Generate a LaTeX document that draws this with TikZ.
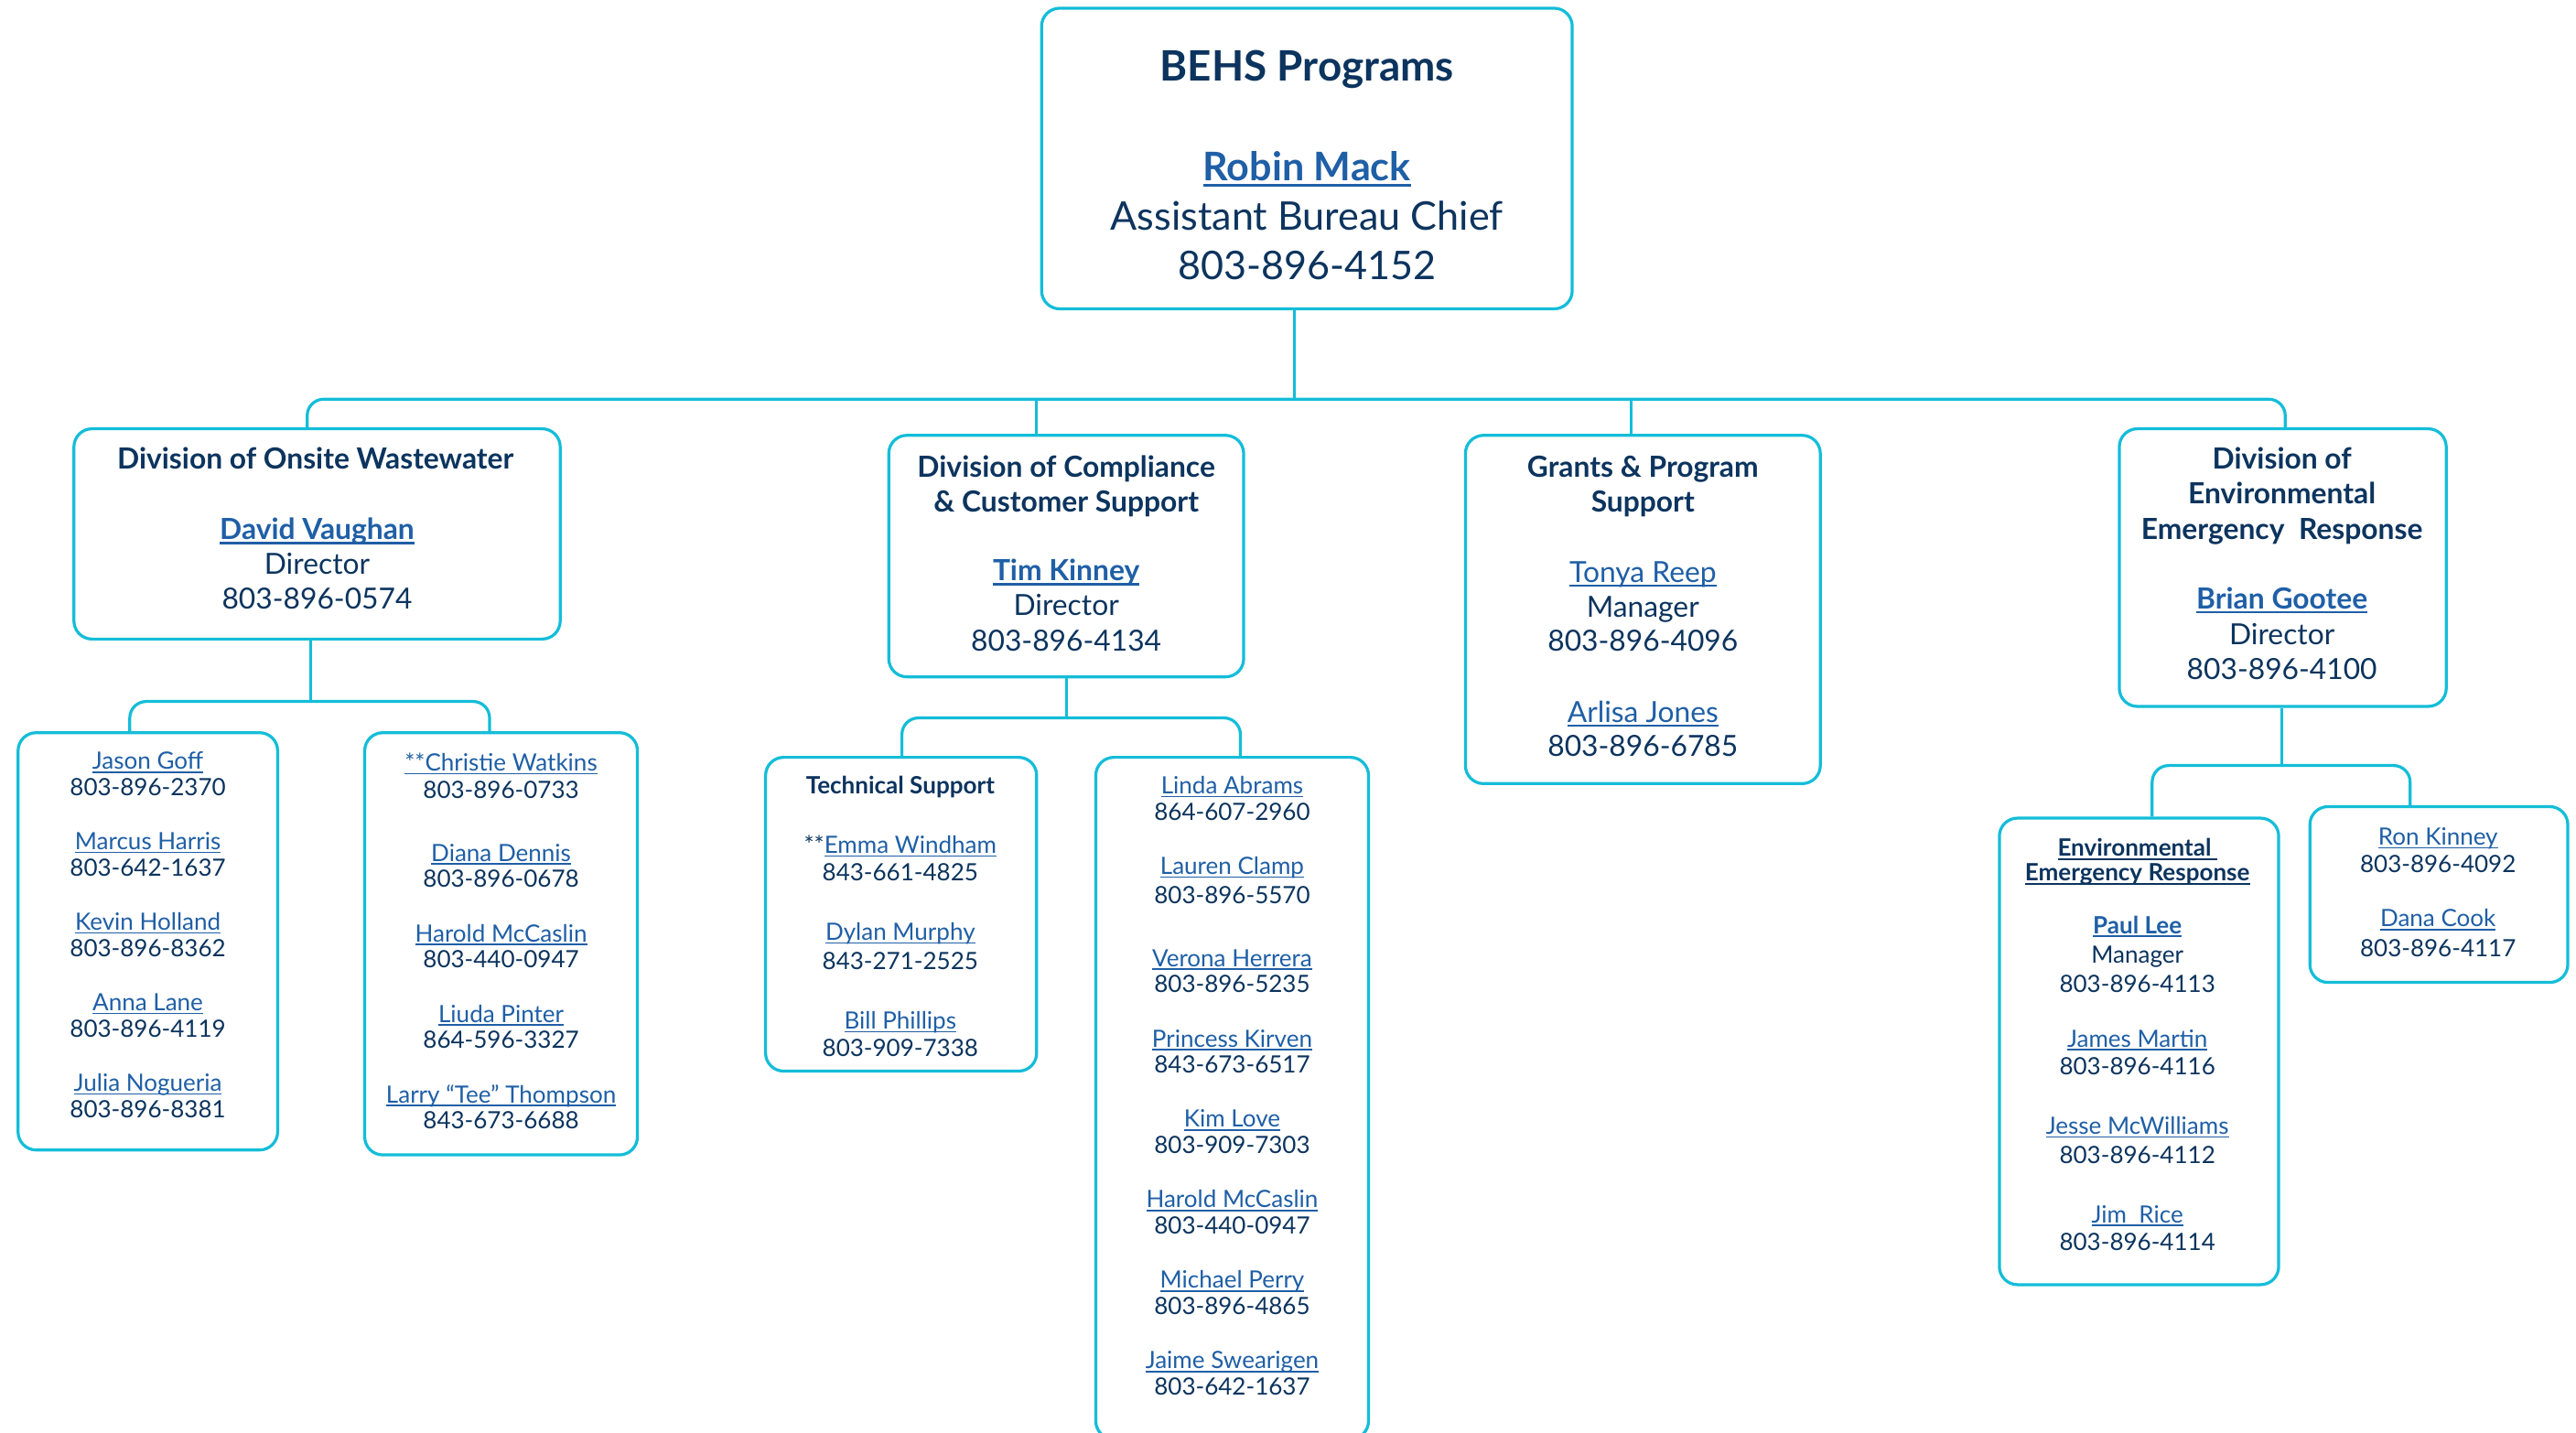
\documentclass[tikz,border=0pt]{standalone}
\usepackage{fontspec}
\setmainfont{Lato}
\definecolor{navy}{HTML}{0C345E}
\definecolor{lnk}{HTML}{1F5FA6}
\definecolor{bcyan}{HTML}{14BDD8}
\newcommand\ulbox[3]{\setbox0\hbox{#1}\rlap{\vrule width\wd0 height -#2 depth #3}\box0}
\newcommand\lk[1]{{\color{lnk}\ulbox{#1}{0.09em}{0.15em}}}
\newcommand\bk[1]{{\bfseries\color{lnk}\ulbox{#1}{0.08em}{0.16em}}}
\newcommand\nk[1]{{\bfseries\color{navy}\ulbox{#1}{0.08em}{0.16em}}}
\begin{document}
\begin{tikzpicture}[x=1pt,y=-1pt,
  box/.style={draw=bcyan,line width=1.8pt,rounded corners=11pt,fill=white,inner sep=0pt},
  conn/.style={draw=bcyan,line width=1.8pt},
  tL/.style={anchor=mid,inner sep=0pt,text=navy,yshift=-6.5pt,font=\fontsize{24}{28}\selectfont},
  tM/.style={anchor=mid,inner sep=0pt,text=navy,yshift=-4pt,font=\fontsize{17.7}{21}\selectfont},
  tS/.style={anchor=mid,inner sep=0pt,text=navy,yshift=-3.7pt,font=\fontsize{14.5}{17}\selectfont}]
\fill[white] (0,0) rectangle (1568,872);
\useasboundingbox (0,0) rectangle (1568,872);
% boxes
\node[box,minimum width=323pt,minimum height=183pt] (top) at (795.5,96.5) {};
\node[box,minimum width=296pt,minimum height=128pt] (onsite) at (193,325) {};
\node[box,minimum width=216pt,minimum height=147pt] (comp) at (649,338.5) {};
\node[box,minimum width=216pt,minimum height=212pt] (grants) at (1000,371) {};
\node[box,minimum width=199pt,minimum height=169pt] (env) at (1389.5,345.5) {};
\node[box,minimum width=158pt,minimum height=254pt] (o1) at (90,573) {};
\node[box,minimum width=166pt,minimum height=257pt] (o2) at (305,574.5) {};
\node[box,minimum width=165pt,minimum height=191pt] (tech) at (548.5,556.5) {};
\node[box,minimum width=166pt,minimum height=415pt] (lin) at (750,668.5) {};
\node[box,minimum width=170pt,minimum height=284pt] (e1) at (1302,640) {};
\node[box,minimum width=157pt,minimum height=107pt] (e2) at (1484.5,544.5) {};
% connectors
\coordinate (bus) at (788,243);
\draw[conn] ([xshift=-7.5pt]top.south) -- (bus);
\draw[conn,rounded corners=10pt] ([xshift=-6pt]onsite.north) |- (bus) -| ([xshift=1.5pt]env.north);
\draw[conn] ([xshift=-18pt]comp.north) -- ([xshift=-18pt]comp.north |- bus);
\draw[conn] ([xshift=-7pt]grants.north) -- ([xshift=-7pt]grants.north |- bus);
\coordinate (obus) at (189,427);
\draw[conn] ([xshift=-4pt]onsite.south) -- (obus);
\draw[conn,rounded corners=10pt] ([xshift=-11pt]o1.north) |- (obus) -| ([xshift=-7pt]o2.north);
\coordinate (cbus) at (649,437);
\draw[conn] (comp.south) -- (cbus);
\draw[conn,rounded corners=10pt] ([xshift=0.5pt]tech.north) |- (cbus) -| ([xshift=5pt]lin.north);
\coordinate (ebus) at (1389,466);
\draw[conn] ([xshift=-0.5pt]env.south) -- (ebus);
\draw[conn,rounded corners=10pt] ([xshift=8pt]e1.north) |- (ebus) -| ([xshift=-17.5pt]e2.north);
% top box text
\node[tL,font=\fontsize{25.5}{29}\selectfont\bfseries] (ta) at (795.5,40) {BEHS Programs};
\node[tL] (tb) at (795.5,101) {\bk{Robin Mack}};
\node[tL] (tc) at (795.5,131) {Assistant Bureau Chief};
\node[tL] (td) at (795.5,161) {803-896-4152};
% onsite
\node[tM] (oa) at (192,279) {\bfseries Division of Onsite Wastewater};
\node[tM] (ob) at (193,322) {\bk{David Vaughan}};
\node[tM] (oc) at (193,343) {Director};
\node[tM] (od) at (193,364) {803-896-0574};
% compliance
\node[tM] (ca) at (649,284) {\bfseries Division of Compliance};
\node[tM] (cb) at (649,305) {\bfseries \& Customer Support};
\node[tM] (cc) at (649,347) {\bk{Tim Kinney}};
\node[tM] (cd) at (649,368) {Director};
\node[tM] (ce) at (649,390) {803-896-4134};
% grants
\node[tM] (ga) at (1000,284) {\bfseries Grants \& Program};
\node[tM] (gb) at (1000,305) {\bfseries Support};
\node[tM] (gc) at (1000,348) {\lk{Tonya Reep}};
\node[tM] (gd) at (1000,369) {Manager};
\node[tM] (ge) at (1000,390) {803-896-4096};
\node[tM] (gf) at (1000,433) {\lk{Arlisa Jones}};
\node[tM] (gg) at (1000,454) {803-896-6785};
% env
\node[tM] (ea) at (1389,279) {\bfseries Division of};
\node[tM] (eb) at (1389,300) {\bfseries Environmental};
\node[tM] (ec) at (1389,322) {\bfseries Emergency\ \ Response};
\node[tM] (ed) at (1389,364) {\bk{Brian Gootee}};
\node[tM] (ee) at (1389,386) {Director};
\node[tM] (ef) at (1389,407) {803-896-4100};
% o1
\node[tS] (o1a) at (90,462) {\lk{Jason Goff}};
\node[tS] (o1b) at (90,478) {803-896-2370};
\node[tS] (o1c) at (90,511) {\lk{Marcus Harris}};
\node[tS] (o1d) at (90,527) {803-642-1637};
\node[tS] (o1e) at (90,560) {\lk{Kevin Holland}};
\node[tS] (o1f) at (90,576) {803-896-8362};
\node[tS] (o1g) at (90,609) {\lk{Anna Lane}};
\node[tS] (o1h) at (90,625) {803-896-4119};
\node[tS] (o1i) at (90,658) {\lk{Julia Nogueria}};
\node[tS] (o1j) at (90,674) {803-896-8381};
% o2
\node[tS] (o2a) at (305,463) {\lk{**Christie Watkins}};
\node[tS] (o2b) at (305,480) {803-896-0733};
\node[tS] (o2c) at (305,518) {\lk{Diana Dennis}};
\node[tS] (o2d) at (305,534) {803-896-0678};
\node[tS] (o2e) at (305,567) {\lk{Harold McCaslin}};
\node[tS] (o2f) at (305,583) {803-440-0947};
\node[tS] (o2g) at (305,616) {\lk{Liuda Pinter}};
\node[tS] (o2h) at (305,632) {864-596-3327};
\node[tS] (o2i) at (305,665) {\lk{Larry “Tee” Thompson}};
\node[tS] (o2j) at (305,681) {843-673-6688};
% tech
\node[tS] (ta1) at (548,477) {\bfseries Technical Support};
\node[tS] (ta2) at (548,513) {**\lk{Emma Windham}};
\node[tS] (ta3) at (548,530) {843-661-4825};
\node[tS] (ta4) at (548,566) {\lk{Dylan Murphy}};
\node[tS] (ta5) at (548,584) {843-271-2525};
\node[tS] (ta6) at (548,620) {\lk{Bill Phillips}};
\node[tS] (ta7) at (548,637) {803-909-7338};
% lin
\node[tS] (la) at (750,477) {\lk{Linda Abrams}};
\node[tS] (lb) at (750,493) {864-607-2960};
\node[tS] (lc) at (750,526) {\lk{Lauren Clamp}};
\node[tS] (ld) at (750,544) {803-896-5570};
\node[tS] (le) at (750,582) {\lk{Verona Herrera}};
\node[tS] (lf) at (750,598) {803-896-5235};
\node[tS] (lg) at (750,631) {\lk{Princess Kirven}};
\node[tS] (lh) at (750,647) {843-673-6517};
\node[tS] (li) at (750,680) {\lk{Kim Love}};
\node[tS] (lj) at (750,696) {803-909-7303};
\node[tS] (lk) at (750,729) {\lk{Harold McCaslin}};
\node[tS] (ll) at (750,745) {803-440-0947};
\node[tS] (lm) at (750,778) {\lk{Michael Perry}};
\node[tS] (ln) at (750,794) {803-896-4865};
\node[tS] (lo) at (750,827) {\lk{Jaime Swearigen}};
\node[tS] (lp) at (750,843) {803-642-1637};
% e1
\node[tS] (e1a) at (1301,515) {\nk{Environmental\ }};
\node[tS] (e1b) at (1301,530) {\nk{Emergency Response}};
\node[tS] (e1c) at (1301,562) {\bk{Paul Lee}};
\node[tS] (e1d) at (1301,580) {Manager};
\node[tS] (e1e) at (1301,598) {803-896-4113};
\node[tS] (e1f) at (1301,631) {\lk{James Martin}};
\node[tS] (e1g) at (1301,648) {803-896-4116};
\node[tS] (e1h) at (1301,684) {\lk{Jesse McWilliams}};
\node[tS] (e1i) at (1301,702) {803-896-4112};
\node[tS] (e1j) at (1301,738) {\lk{Jim\ \ Rice}};
\node[tS] (e1k) at (1301,755) {803-896-4114};
% e2
\node[tS] (e2a) at (1484,508) {\lk{Ron Kinney}};
\node[tS] (e2b) at (1484,525) {803-896-4092};
\node[tS] (e2c) at (1484,558) {\lk{Dana Cook}};
\node[tS] (e2d) at (1484,576) {803-896-4117};
\end{tikzpicture}
\end{document}
